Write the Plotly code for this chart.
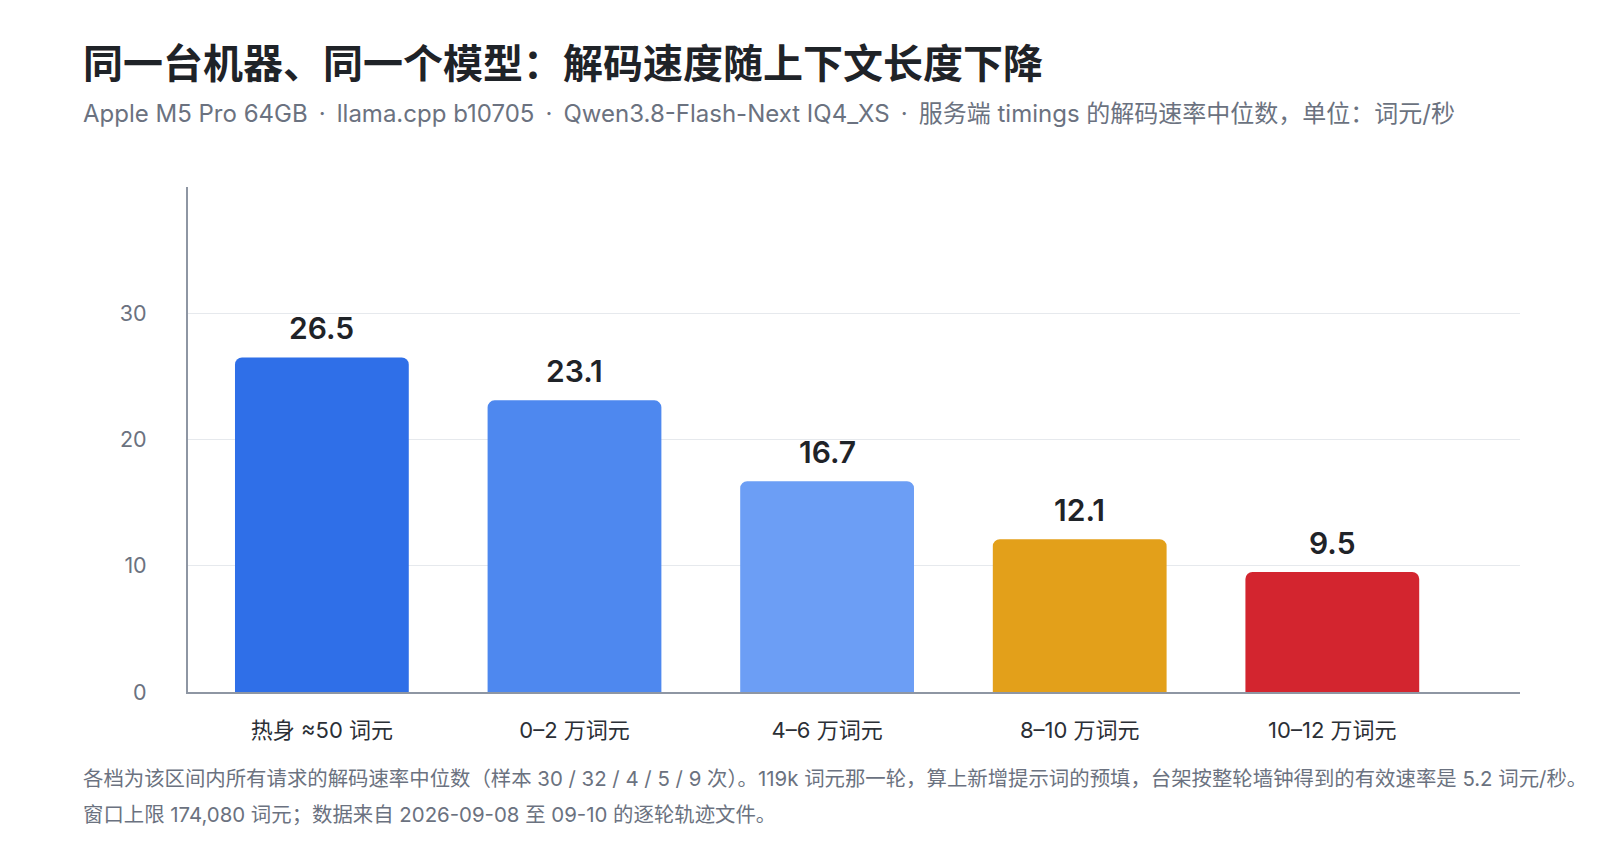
import plotly.graph_objects as go

# 上下文档位与解码速率中位数（词元/秒）
categories = ["热身 ≈50 词元", "0–2 万词元", "4–6 万词元", "8–10 万词元", "10–12 万词元"]
decode_rate = [26.5, 23.1, 16.7, 12.1, 9.5]
bar_colors = ["#2F6FE8", "#4E88EF", "#6C9EF5", "#E3A01A", "#D3252F"]
y_ticks = [0, 10, 20, 30]

title_text = "同一台机器、同一个模型：解码速度随上下文长度下降"
DOT = "\u2009 · \u2009"
subtitle_text = DOT.join([
    "Apple M5 Pro 64GB",
    "llama.cpp b10705",
    "Qwen3.8-Flash-Next IQ4_XS",
    "服务端 timings 的解码速率中位数，单位：词元/秒",
])
note_lines = [
    "各档为该区间内所有请求的解码速率中位数（样本 30 / 32 / 4 / 5 / 9 次）。119k 词元那一轮，"
    "算上新增提示词的预填，台架按整轮墙钟得到的有效速率是 5.2 词元/秒。",
    "窗口上限 174,080 词元；数据来自 2026-09-08 至 09-10 的逐轮轨迹文件。",
]

FONT = "Inter, Noto Sans CJK SC, sans-serif"
TEXT_X = -0.0805

fig = go.Figure()
fig.add_trace(
    go.Bar(
        x=list(range(len(categories))),
        y=decode_rate,
        marker=dict(color=bar_colors, line=dict(width=0), cornerradius=7),
        width=0.688,
        hoverinfo="skip",
    )
)

# 柱顶数值
for i, v in enumerate(decode_rate):
    fig.add_annotation(
        x=i, y=v, xref="x", yref="y", yanchor="bottom", yshift=9,
        showarrow=False, text=f"{v:.1f}",
        font=dict(size=30, color="#1f2328", family=FONT, weight=600),
    )

fig.add_annotation(
    xref="paper", yref="paper", x=TEXT_X, y=1.2455, xanchor="left", yanchor="middle",
    showarrow=False, text=f"<b>{title_text}</b>",
    font=dict(size=40, color="#1f2328", family=FONT),
)
fig.add_annotation(
    xref="paper", yref="paper", x=TEXT_X, y=1.1446, xanchor="left", yanchor="middle",
    showarrow=False, text=subtitle_text,
    font=dict(size=24, color="#6b7280", family=FONT),
)
fig.add_annotation(
    xref="paper", yref="paper", x=TEXT_X, y=-0.172, xanchor="left", yanchor="middle",
    showarrow=False, text=note_lines[0],
    font=dict(size=20.4, color="#6b7280", family=FONT),
)
fig.add_annotation(
    xref="paper", yref="paper", x=TEXT_X, y=-0.2416, xanchor="left", yanchor="middle",
    showarrow=False, text=note_lines[1],
    font=dict(size=20.4, color="#6b7280", family=FONT),
)

fig.update_layout(
    width=1584,
    height=838,
    margin=dict(l=180, r=72, t=179, b=154),
    paper_bgcolor="white",
    plot_bgcolor="white",
    showlegend=False,
    font=dict(family=FONT),
)
fig.update_xaxes(
    range=[-0.53, 4.743],
    tickvals=list(range(len(categories))),
    ticktext=categories,
    tickfont=dict(size=22, color="#2b2f36", family=FONT),
    showgrid=False,
    showline=True,
    linecolor="#8e96a3",
    linewidth=2,
    ticks="",
    ticklabelstandoff=18,
    zeroline=False,
)
fig.update_yaxes(
    range=[0, 40],
    tickvals=y_ticks,
    tickfont=dict(size=21.5, color="#6b7280", family=FONT),
    showgrid=True,
    gridcolor="#e6e9ed",
    gridwidth=1,
    showline=True,
    linecolor="#8e96a3",
    linewidth=2,
    ticks="",
    ticklabelstandoff=35,
    zeroline=False,
)

fig.write_html("out.html")
